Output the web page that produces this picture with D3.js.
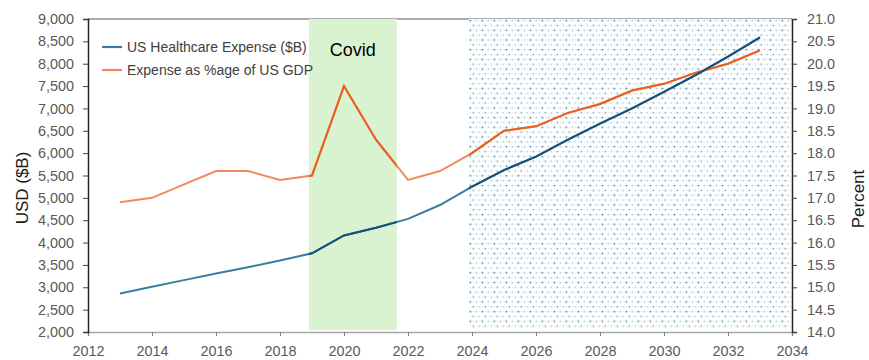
<!DOCTYPE html>
<html>
<head>
<meta charset="utf-8">
<script src="https://cdn.jsdelivr.net/npm/d3@7"></script>
<style>
  html, body { margin: 0; padding: 0; background: #fff; }
  svg { display: block; font-family: "Liberation Sans", Arial, sans-serif; }
</style>
</head>
<body>
<svg id="chart" width="869" height="360"></svg>
<script>
// ---- data ----
const years = [2013,2014,2015,2016,2017,2018,2019,2020,2021,2022,2023,2024,2025,2026,2027,2028,2029,2030,2031,2032,2033];
const expenseB = [2860,3010,3160,3310,3450,3600,3760,4160,4330,4530,4840,5250,5620,5920,6300,6660,7000,7370,7750,8160,8590];
const pctGDP = [16.9,17.0,17.3,17.6,17.6,17.4,17.5,19.5,18.3,17.4,17.6,18.0,18.5,18.6,18.9,19.1,19.4,19.55,19.8,20.0,20.3];
const xTicks = [2012,2014,2016,2018,2020,2022,2024,2026,2028,2030,2032,2034];
const leftTicks = [2000,2500,3000,3500,4000,4500,5000,5500,6000,6500,7000,7500,8000,8500,9000];
const rightTicks = [14,14.5,15,15.5,16,16.5,17,17.5,18,18.5,19,19.5,20,20.5,21];
const covidRange = [2018.9, 2021.65];
const forecastRange = [2023.9, 2034];
const seriesNames = ["US Healthcare Expense ($B)", "Expense as %age of US GDP"];

// ---- layout ----
const L = 88, R = 792, T = 19, B = 332;
const svg = d3.select("#chart");
const x = d3.scaleLinear().domain([2012, 2034]).range([L, R]);
const yL = d3.scaleLinear().domain([2000, 9000]).range([B, T]);
const yR = d3.scaleLinear().domain([14, 21]).range([B, T]);

const defs = svg.append("defs");
const pat = defs.append("pattern").attr("id", "dots").attr("patternUnits", "userSpaceOnUse")
  .attr("width", 12).attr("height", 9.7).attr("x", x(forecastRange[0])).attr("y", T);
pat.append("rect").attr("width", 12).attr("height", 9.7).attr("fill", "#fff");
[[1.5,1.6,1.0],[7.5,1.6,0.45],[4.5,6.45,0.7],[10.5,6.45,0.4],[1.5,6.45,0.12],[7.5,6.45,0.1],[4.5,1.6,0.1],[10.5,1.6,0.12]].forEach(([cx,cy,o]) => {
  pat.append("rect").attr("x", cx-0.75).attr("y", cy-0.75).attr("width", 1.5).attr("height", 1.5)
    .attr("fill", "#2a6f9b").attr("opacity", o);
});

// frame top line
svg.append("line").attr("x1", L).attr("x2", R).attr("y1", T).attr("y2", T)
  .attr("stroke", "#595959").attr("stroke-width", 1.2);

// covid band
svg.append("rect").attr("x", x(covidRange[0])).attr("y", T)
  .attr("width", x(covidRange[1]) - x(covidRange[0])).attr("height", B - 2 - T)
  .attr("fill", "#d9f2d0");
// forecast dotted region
svg.append("rect").attr("x", x(forecastRange[0])).attr("y", T)
  .attr("width", x(forecastRange[1]) - x(forecastRange[0]) - 1).attr("height", B - 3 - T)
  .attr("fill", "url(#dots)");

// clip paths for darker line segments
const clip = defs.append("clipPath").attr("id", "dark");
clip.append("rect").attr("x", x(covidRange[0])).attr("y", 0)
  .attr("width", x(covidRange[1]) - x(covidRange[0])).attr("height", 360);
clip.append("rect").attr("x", x(forecastRange[0])).attr("y", 0)
  .attr("width", x(forecastRange[1]) - x(forecastRange[0])).attr("height", 360);

// axes
const xAxis = svg.append("g").attr("transform", `translate(0,${B})`)
  .call(d3.axisBottom(x).tickValues(xTicks).tickFormat(d3.format("d")).tickSize(4).tickPadding(10));
xAxis.select(".domain").attr("stroke", "#a6a6a6").attr("stroke-width", 1.5);
xAxis.selectAll(".tick line").attr("stroke", "#7f7f7f");

const lAxis = svg.append("g").attr("transform", `translate(${L},0)`)
  .call(d3.axisLeft(yL).tickValues(leftTicks).tickFormat(d3.format(",")).tickSize(5).tickPadding(9));
lAxis.select(".domain").attr("stroke", "#262626").attr("stroke-width", 1.5);
lAxis.selectAll(".tick line").attr("stroke", "#404040");

const rAxis = svg.append("g").attr("transform", `translate(${R},0)`)
  .call(d3.axisRight(yR).tickValues(rightTicks).tickFormat(d3.format(".1f")).tickSize(5).tickPadding(10));
rAxis.select(".domain").attr("stroke", "#262626").attr("stroke-width", 1.5);
rAxis.selectAll(".tick line").attr("stroke", "#404040");

svg.selectAll(".tick text").attr("font-size", 14.4).attr("fill", "#595959")
  .attr("font-family", "'Liberation Sans', Arial, sans-serif");

// lines
const lineB = d3.line().x((d, i) => x(years[i])).y(d => yL(d));
const lineP = d3.line().x((d, i) => x(years[i])).y(d => yR(d));
const base = svg.append("g");
base.append("path").attr("d", lineP(pctGDP)).attr("fill", "none").attr("stroke", "#f08a5c").attr("stroke-width", 2);
base.append("path").attr("d", lineB(expenseB)).attr("fill", "none").attr("stroke", "#3b7ca4").attr("stroke-width", 2);
const dark = svg.append("g").attr("clip-path", "url(#dark)");
dark.append("path").attr("d", lineP(pctGDP)).attr("fill", "none").attr("stroke", "#e8601f").attr("stroke-width", 2);
dark.append("path").attr("d", lineB(expenseB)).attr("fill", "none").attr("stroke", "#174f78").attr("stroke-width", 2);

// covid label
svg.append("text").attr("x", (x(covidRange[0]) + x(covidRange[1])) / 2).attr("y", 56)
  .attr("text-anchor", "middle").attr("font-size", 18).attr("fill", "#000").text("Covid");

// legend
const legColors = ["#3b7ca4", "#f08a5c"];
seriesNames.forEach((name, i) => {
  const yy = 47 + i * 23;
  svg.append("line").attr("x1", 102).attr("x2", 122).attr("y1", yy).attr("y2", yy)
    .attr("stroke", legColors[i]).attr("stroke-width", 2.2);
  svg.append("text").attr("x", 127).attr("y", yy + 5).attr("font-size", 14).attr("fill", "#404040").text(name);
});

// axis titles
svg.append("text").attr("transform", "translate(22.5,188) rotate(-90)")
  .attr("text-anchor", "middle").attr("dominant-baseline", "central")
  .attr("font-size", 17).attr("fill", "#1a1a1a").text("USD ($B)");
svg.append("text").attr("transform", "translate(858.5,199) rotate(-90)")
  .attr("text-anchor", "middle").attr("dominant-baseline", "central")
  .attr("font-size", 17).attr("fill", "#1a1a1a").text("Percent");
</script>
</body>
</html>
